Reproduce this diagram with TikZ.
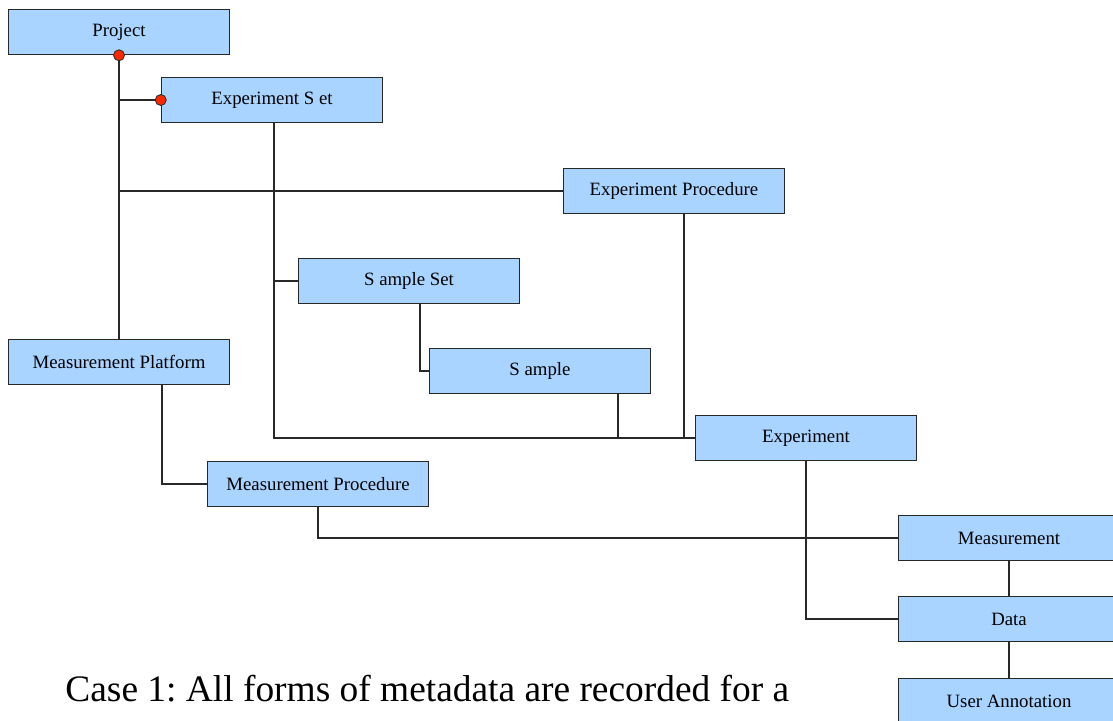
\documentclass[tikz,border=0pt]{standalone}
\usepackage{fontspec}
\setmainfont{Liberation Serif}
\definecolor{BoxBlue}{RGB}{168, 212, 255}
\definecolor{EdgeGray}{RGB}{40, 40, 40}
\definecolor{DotRed}{RGB}{250, 40, 0}
\usetikzlibrary{positioning}
\frenchspacing

\begin{document}
\begin{tikzpicture}[
            x=0.5pt, y=-0.5pt,
            box/.style={rectangle, draw=EdgeGray, line width=0.75pt, fill=BoxBlue, minimum width=110.5pt, minimum height=22.5pt, inner sep=0pt, align=center, font=\fontsize{9.4}{11}\selectfont},
            link/.style={draw=EdgeGray, line width=0.75pt},
            dot/.style={circle, draw=EdgeGray, line width=0.4pt, fill=DotRed, inner sep=0pt, minimum size=5.5pt},
        ]
            \useasboundingbox (0,0) rectangle (1113,720);
            % connectors first, boxes on top
            \coordinate (projfoot) at (119,55);
            \coordinate (setfoot) at (274,122);
            \coordinate (ssfoot) at (420,304);
            \coordinate (smfoot) at (618,394);
            \coordinate (epfoot) at (684,214);
            \coordinate (mpfoot) at (162,385);

            \node[box] (project) at (119,32) {Project};
            \node[box] (expset) at (272,100) {Experiment S et};
            \node[box] (expproc) at (674,191) {Experiment Procedure};
            \node[box] (sampleset) at (409,281) {S ample Set};
            \node[box] (sample) at (540,371) {S ample};
            \node[box] (mplatform) at (119,362) {Measurement Platform};
            \node[box] (experiment) at (806,438) {Experiment};
            \node[box] (mproc) at (318,484) {Measurement Procedure};
            \node[box] (measurement) at (1009,538) {Measurement};
            \node[box] (data) at (1009,619) {Data};
            \node[box] (annotation) at (1009,701) {User Annotation};

            \draw[link] (project.south) -- (mplatform.north);
            \draw[link] (projfoot |- expset.west) -- (expset.west);
            \draw[link] (projfoot |- expproc.west) -- (expproc.west);
            \draw[link] (setfoot) |- (experiment.west);
            \draw[link] (setfoot |- sampleset.west) -- (sampleset.west);
            \draw[link] (ssfoot) |- (sample.west);
            \draw[link] (smfoot) |- (experiment.west);
            \draw[link] (epfoot) |- (experiment.west);
            \draw[link] (mpfoot) |- (mproc.west);
            \draw[link] (mproc.south) |- (measurement.west);
            \draw[link] (experiment.south) |- (data.west);
            \draw[link] (measurement) -- (data);
            \draw[link] (data) -- (annotation);

            \node[dot] (projdot) at (project.south) {};
            \node[dot] (setdot) at (expset.west) {};

            \node[anchor=base west, inner sep=0pt, font=\fontsize{18.7}{22}\selectfont] (caption) at (65,701) {Case 1: All forms of metadata are recorded for a};
        \end{tikzpicture}
\end{document}
